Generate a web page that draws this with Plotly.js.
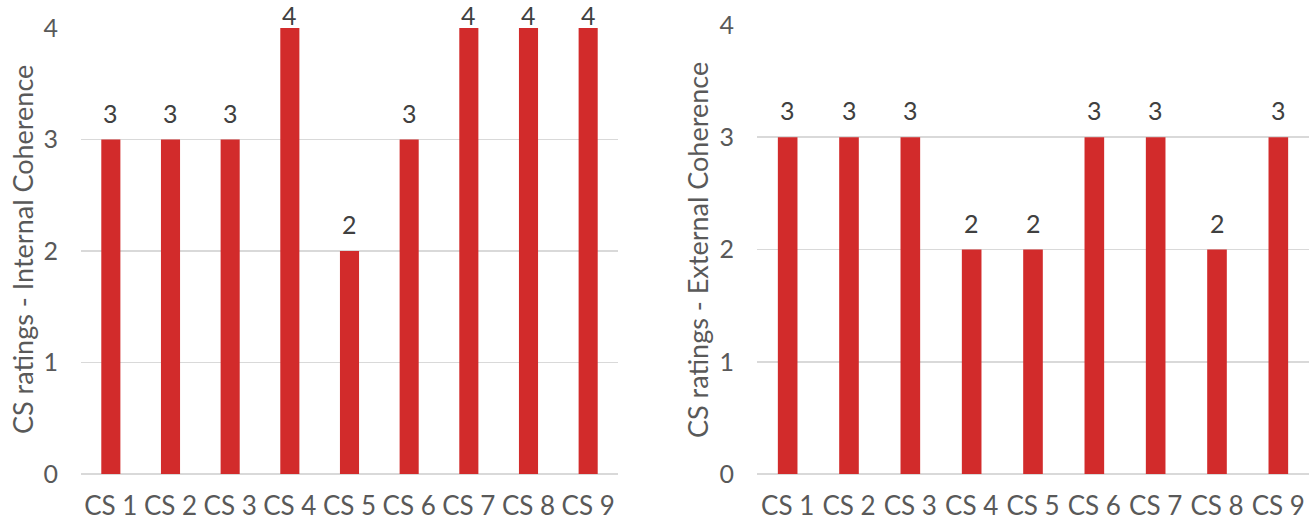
<!DOCTYPE html>
<html>
<head>
<meta charset="utf-8">
<script src="https://cdn.plot.ly/plotly-3.0.1.min.js"></script>
<style>
  html, body { margin: 0; padding: 0; background: #ffffff; }
  #chart { width: 1314px; height: 521px; }
</style>
</head>
<body>
<div id="chart"></div>
<script>
// Case-study ratings for the two coherence dimensions
const categories = ['CS 1', 'CS 2', 'CS 3', 'CS 4', 'CS 5', 'CS 6', 'CS 7', 'CS 8', 'CS 9'];
const internalCoherence = [3, 3, 3, 4, 2, 3, 4, 4, 4];
const externalCoherence = [3, 3, 3, 2, 2, 3, 3, 2, 3];
const yTicks = [0, 1, 2, 3, 4];
const internalTitle = 'CS ratings - Internal Coherence';
const externalTitle = 'CS ratings - External Coherence';

const barColor = '#D22B2B';
const textColor = '#595959';
const labelColor = '#404040';
const gridColor = '#D9D9D9';
const fontFamily = 'Lato, "Open Sans", sans-serif';
const yMax = 4;

function barTrace(values, xa, ya) {
  return {
    type: 'bar',
    x: categories,
    y: values,
    xaxis: xa,
    yaxis: ya,
    width: 0.32,
    marker: { color: barColor },
    hoverinfo: 'x+y',
    showlegend: false
  };
}

// value labels above each bar; labels on bars that reach the top of the
// axis are tucked in closer so they stay inside the page
function valueLabels(values, xref, yref) {
  return values.map((v, i) => ({
    x: categories[i],
    y: v,
    xref: xref,
    yref: yref,
    text: String(v),
    showarrow: false,
    yanchor: 'bottom',
    yshift: v >= yMax ? -4 : 10,
    font: { family: fontFamily, size: 25, color: labelColor }
  }));
}

function xAxis(domain, anchor) {
  return {
    domain: domain,
    anchor: anchor,
    type: 'category',
    showgrid: false,
    zeroline: false,
    showline: false,
    ticks: '',
    ticklabelstandoff: 14,
    tickfont: { family: fontFamily, size: 26, color: textColor },
    fixedrange: true
  };
}

function yAxis(domain, anchor) {
  return {
    domain: domain,
    anchor: anchor,
    range: [0, yMax],
    tickvals: yTicks,
    showgrid: true,
    gridcolor: gridColor,
    gridwidth: 1.8,
    zeroline: true,
    zerolinecolor: gridColor,
    zerolinewidth: 2,
    showline: false,
    ticks: '',
    ticklabelstandoff: 22,
    tickfont: { family: fontFamily, size: 25, color: textColor },
    fixedrange: true
  };
}

const W = 1314, H = 521;
const px = v => v / W;
const py = v => (H - v) / H;

const data = [
  barTrace(internalCoherence, 'x', 'y'),
  barTrace(externalCoherence, 'x2', 'y2')
];

const titleFont = { family: fontFamily, size: 27, color: textColor };

const layout = {
  width: W,
  height: H,
  margin: { l: 0, r: 0, t: 0, b: 0, pad: 0 },
  paper_bgcolor: '#ffffff',
  plot_bgcolor: '#ffffff',
  xaxis: xAxis([px(81), px(618)], 'y'),
  yaxis: yAxis([py(474), py(28)], 'x'),
  xaxis2: xAxis([px(757), px(1309)], 'y2'),
  yaxis2: yAxis([py(474), py(25)], 'x2'),
  annotations: [
    ...valueLabels(internalCoherence, 'x', 'y'),
    ...valueLabels(externalCoherence, 'x2', 'y2'),
    {
      text: internalTitle, textangle: -90, showarrow: false,
      xref: 'paper', yref: 'paper', x: px(22), y: py(250),
      xanchor: 'center', yanchor: 'middle', font: titleFont
    },
    {
      text: externalTitle, textangle: -90, showarrow: false,
      xref: 'paper', yref: 'paper', x: px(697), y: py(250),
      xanchor: 'center', yanchor: 'middle', font: titleFont
    }
  ]
};

Plotly.newPlot('chart', data, layout, { displayModeBar: false, staticPlot: true });
</script>
</body>
</html>
